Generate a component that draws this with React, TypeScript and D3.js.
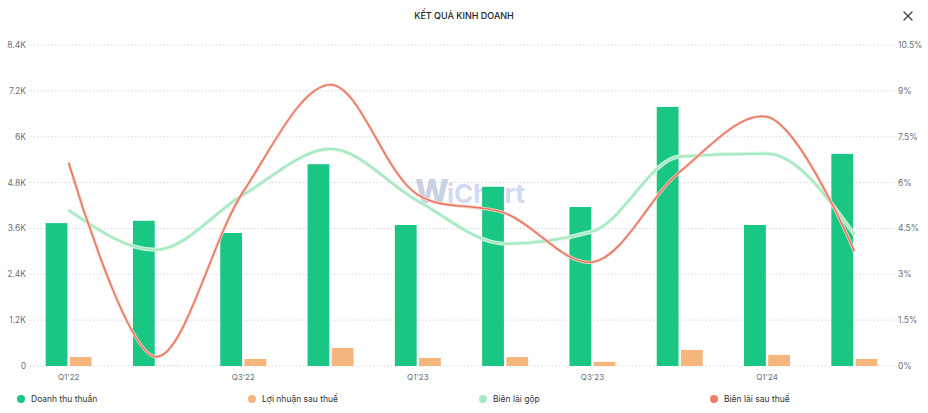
import React from "react";
import * as d3 from "d3";

const categories = ["Q1'22", "Q2'22", "Q3'22", "Q4'22", "Q1'23", "Q2'23", "Q3'23", "Q4'23", "Q1'24", "Q2'24"];
const revenue = [3740, 3800, 3480, 5280, 3690, 4690, 4160, 6780, 3690, 5550];
const netProfit = [235, 5, 185, 470, 210, 235, 110, 420, 290, 185];
const grossMargin = [5.1, 3.8, 5.6, 7.1, 5.4, 4.0, 4.4, 6.85, 6.95, 4.3];
const netMargin = [6.65, 0.3, 5.7, 9.2, 5.6, 5.0, 3.4, 6.35, 8.15, 3.75];
const leftTicks = [0, 1200, 2400, 3600, 4800, 6000, 7200, 8400];
const rightTicks = [0, 1.5, 3, 4.5, 6, 7.5, 9, 10.5];
const legendItems = ["Doanh thu thuần", "Lợi nhuận sau thuế", "Biên lãi gộp", "Biên lãi sau thuế"];
const legendColors = ["#19c684", "#f5b67e", "#a6e9c2", "#ee7b64"];

const W = 928;
const H = 413;
const FONT = "Inter, 'Noto Sans', sans-serif";

export default function App() {
  const x = d3.scaleBand<string>().domain(categories).range([25, 898]).padding(0);
  const sub = d3.scaleBand<string>().domain(["rev", "np"]).range([0, 46]).paddingInner(0.1);
  const yL = d3.scaleLinear().domain([0, 8400]).range([366, 45]);
  const yR = d3.scaleLinear().domain([0, 10.5]).range([366, 45]);
  const cx = (c: string) => (x(c) as number) + x.bandwidth() / 2;

  const line = (vals: number[], curve: d3.CurveFactory) =>
    d3
      .line<number>()
      .x((_, i) => cx(categories[i]))
      .y((v) => yR(v))
      .curve(curve)(vals) as string;

  const fmtL = (v: number) => (v === 0 ? "0" : `${d3.format("~g")(v / 1000)}K`);
  const gPath = line(grossMargin, d3.curveMonotoneX);
  const nPath = line(netMargin, d3.curveCatmullRom.alpha(0.5));

  return (
    <svg width={W} height={H} style={{ position: "absolute", left: 0, top: 0, background: "#fff" }} fontFamily={FONT}>
      <text x={464} y={19} textAnchor="middle" fontSize={9} fontWeight={500} fill="#222">
        KẾT QUẢ KINH DOANH
      </text>
      <g stroke="#445" strokeWidth={1.4} strokeLinecap="round">
        <line x1={904} y1={12} x2={912} y2={20} />
        <line x1={912} y1={12} x2={904} y2={20} />
      </g>

      {/* gridlines */}
      {leftTicks.map((t) => (
        <line key={t} x1={30} x2={895} y1={yL(t)} y2={yL(t)} stroke="#d8d8d8" strokeDasharray="1.5 2" />
      ))}
      {leftTicks.map((t) => (
        <text key={"l" + t} x={26} y={yL(t) + 3} textAnchor="end" fontSize={8.5} fill="#6b6f7a">
          {fmtL(t)}
        </text>
      ))}
      {rightTicks.map((t) => (
        <text key={"r" + t} x={898} y={yR(t) + 3} textAnchor="start" fontSize={8.5} fill="#6b6f7a">
          {`${t}%`}
        </text>
      ))}
      {categories.map((c, i) =>
        i % 2 === 0 ? (
          <text key={"x" + c} x={cx(c)} y={380} textAnchor="middle" fontSize={8} fill="#6b6f7a">
            {c}
          </text>
        ) : null
      )}

      {/* watermark */}
      <text x={415} y={203} opacity={0.75}>
        <tspan fontSize={32} fontWeight={800} fill="#b9c2da">W</tspan>
        <tspan fontSize={26} fontWeight={700} fill="#c3cdf0" dx={-2}>iChart</tspan>
      </text>

      {/* bars */}
      {categories.map((c, i) => {
        const left = cx(c) - 23;
        return (
          <g key={"b" + c}>
            <rect
              x={left + (sub("rev") as number)}
              y={yL(revenue[i])}
              width={sub.bandwidth()}
              height={yL(0) - yL(revenue[i])}
              fill="#19c684"
            />
            <rect
              x={left + (sub("np") as number)}
              y={yL(netProfit[i])}
              width={sub.bandwidth()}
              height={yL(0) - yL(netProfit[i])}
              fill="#f5b67e"
            />
          </g>
        );
      })}

      {/* lines */}
      <path d={gPath} fill="none" stroke="#dcf6e7" strokeWidth={4} />
      <path d={gPath} fill="none" stroke="#a6e9c2" strokeWidth={2.2} />
      <path d={nPath} fill="none" stroke="#f8d0c6" strokeWidth={3.2} />
      <path d={nPath} fill="none" stroke="#e8765f" strokeWidth={1.5} />

      {/* legend */}
      {legendItems.map((t, i) => {
        const lx = 21 + i * 231;
        return (
          <g key={"lg" + t}>
            <circle cx={lx} cy={399} r={4} fill={legendColors[i]} />
            <text x={lx + 10} y={402} fontSize={8.5} fill="#333">
              {t}
            </text>
          </g>
        );
      })}
    </svg>
  );
}
